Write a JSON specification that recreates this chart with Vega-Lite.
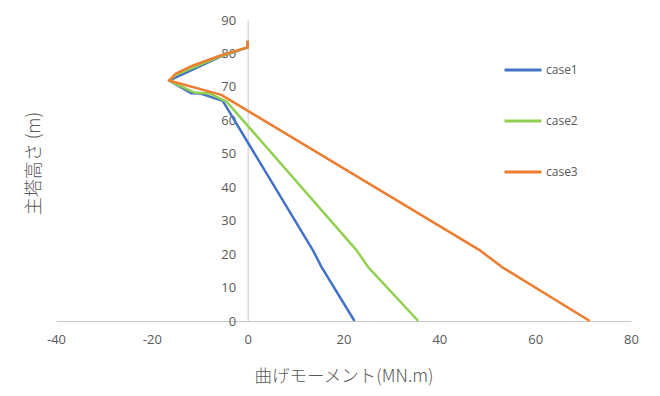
{
  "$schema": "https://vega.github.io/schema/vega-lite/v6.json",
  "width": 575,
  "height": 301,
  "autosize": {"type": "none"},
  "padding": {"left": 56, "top": 20, "right": 29, "bottom": 75},
  "background": "white",
  "data": {
    "values": [
      {"series": "case1", "i": 1, "m": 22.3, "h": 0},
      {"series": "case1", "i": 2, "m": 15.4, "h": 16.2},
      {"series": "case1", "i": 3, "m": 13.6, "h": 21.2},
      {"series": "case1", "i": 4, "m": -5.2, "h": 65.8},
      {"series": "case1", "i": 5, "m": -9.8, "h": 68.0},
      {"series": "case1", "i": 6, "m": -11.8, "h": 68.1},
      {"series": "case1", "i": 7, "m": -16.4, "h": 71.9},
      {"series": "case1", "i": 8, "m": -5.8, "h": 79.0},
      {"series": "case1", "i": 9, "m": 0, "h": 81.8},
      {"series": "case1", "i": 10, "m": 0, "h": 83.8},
      {"series": "case2", "i": 1, "m": 35.6, "h": 0},
      {"series": "case2", "i": 2, "m": 25.1, "h": 16.2},
      {"series": "case2", "i": 3, "m": 22.7, "h": 21.2},
      {"series": "case2", "i": 4, "m": -4.4, "h": 65.6},
      {"series": "case2", "i": 5, "m": -7.9, "h": 68.0},
      {"series": "case2", "i": 6, "m": -11.1, "h": 68.3},
      {"series": "case2", "i": 7, "m": -16.4, "h": 71.9},
      {"series": "case2", "i": 8, "m": -15.0, "h": 73.6},
      {"series": "case2", "i": 9, "m": -5.8, "h": 79.1},
      {"series": "case2", "i": 10, "m": 0, "h": 81.8},
      {"series": "case2", "i": 11, "m": 0, "h": 83.8},
      {"series": "case3", "i": 1, "m": 71.4, "h": 0},
      {"series": "case3", "i": 2, "m": 53.0, "h": 16.2},
      {"series": "case3", "i": 3, "m": 48.4, "h": 21.2},
      {"series": "case3", "i": 4, "m": -5.5, "h": 67.6},
      {"series": "case3", "i": 5, "m": -16.4, "h": 71.9},
      {"series": "case3", "i": 6, "m": -15.0, "h": 74.0},
      {"series": "case3", "i": 7, "m": -11.4, "h": 76.4},
      {"series": "case3", "i": 8, "m": -5.8, "h": 79.3},
      {"series": "case3", "i": 9, "m": 0, "h": 81.8},
      {"series": "case3", "i": 10, "m": 0, "h": 83.8}
    ]
  },
  "mark": {"type": "line", "strokeWidth": 2.5, "strokeJoin": "round"},
  "encoding": {
    "x": {
      "field": "m",
      "type": "quantitative",
      "scale": {"domain": [-40, 80], "nice": false, "zero": false},
      "axis": {
        "values": [-40, -20, 0, 20, 40, 60, 80],
        "labelExpr": "toString(datum.value)",
        "labelFlush": false,
        "grid": false,
        "ticks": false,
        "domainColor": "#c8c8c8",
        "domainWidth": 1,
        "labelColor": "#595959",
        "labelFont": "Open Sans",
        "labelFontSize": 13,
        "labelPadding": 12,
        "title": "曲げモーメント(MN.m)",
        "titleFont": "Noto Sans CJK JP",
        "titleFontSize": 17.5,
        "titleFontWeight": 300,
        "titleColor": "#595959",
        "titlePadding": 21
      }
    },
    "y": {
      "field": "h",
      "type": "quantitative",
      "scale": {"domain": [0, 90], "nice": false},
      "axis": {
        "values": [0, 10, 20, 30, 40, 50, 60, 70, 80, 90],
        "grid": false,
        "ticks": false,
        "offset": -191.67,
        "domainColor": "#c8c8c8",
        "domainWidth": 1,
        "labelColor": "#595959",
        "labelFont": "Open Sans",
        "labelFontSize": 13,
        "labelPadding": 12,
        "title": "主塔高さ (m)",
        "titleFont": "Noto Sans CJK JP",
        "titleFontSize": 18,
        "titleFontWeight": 300,
        "titleColor": "#595959",
        "titleX": -213,
        "titleY": 143,
        "titleAngle": -90,
        "titleAlign": "center",
        "titleBaseline": "middle"
      }
    },
    "color": {
      "field": "series",
      "type": "nominal",
      "scale": {"domain": ["case1", "case2", "case3"], "range": ["#4472C4", "#92D050", "#ED7D31"]},
      "legend": {
        "title": null,
        "orient": "none",
        "legendX": 447,
        "legendY": 30,
        "symbolType": "stroke",
        "symbolSize": 1369,
        "symbolStrokeWidth": 3,
        "labelFont": "Open Sans",
        "labelFontSize": 12,
        "labelColor": "#595959",
        "labelOffset": 3,
        "rowPadding": 25
      }
    },
    "order": {"field": "i", "type": "quantitative"}
  },
  "config": {"view": {"stroke": null}}
}
